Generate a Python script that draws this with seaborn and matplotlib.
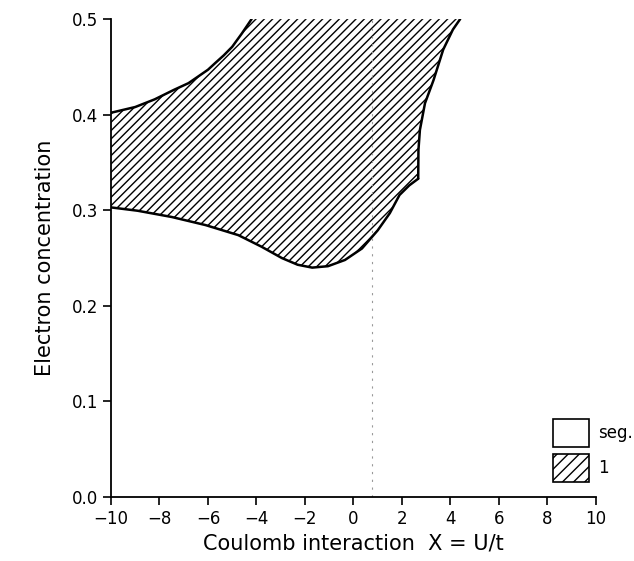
import numpy as np
import pandas as pd
import matplotlib
matplotlib.use('Agg')
import matplotlib.pyplot as plt
import matplotlib.patches as mpatches
import seaborn as sns

# boundary of phase region "1"
upper_x = [-10, -9.0, -8.2, -7.4, -6.8, -6.4, -6.0, -5.7, -5.35, -5.0, -4.6, -4.2]
upper_y = [0.402, 0.408, 0.416, 0.426, 0.433, 0.440, 0.447, 0.454, 0.462, 0.471, 0.485, 0.500]

lower_x = [-10, -8.9, -7.5, -6.1, -4.75, -3.8, -2.95, -2.3, -1.7, -1.05, -0.35,
           0.35, 1.0, 1.5, 1.9, 2.3, 2.67]
lower_y = [0.303, 0.2995, 0.293, 0.2845, 0.274, 0.262, 0.250, 0.243, 0.240, 0.2415,
           0.248, 0.260, 0.279, 0.297, 0.316, 0.326, 0.333]

right_x = [2.67, 2.68, 2.74, 2.95, 3.3, 3.7, 4.1, 4.4]
right_y = [0.333, 0.363, 0.384, 0.412, 0.436, 0.468, 0.489, 0.500]

x_ticks = [-10, -8, -6, -4, -2, 0, 2, 4, 6, 8, 10]
y_ticks = [0.0, 0.1, 0.2, 0.3, 0.4, 0.5]
legend_labels = ['seg.', '1']

sns.set_style('ticks')
plt.rcParams['font.family'] = ['DejaVu Sans']
plt.rcParams['hatch.linewidth'] = 1.0
plt.rcParams['text.color'] = 'black'
plt.rcParams['axes.labelcolor'] = 'black'

fig = plt.figure(figsize=(6.34, 5.61), dpi=100)
ax = fig.add_axes([0.175, 0.114, 0.765, 0.852])

# polygon of the hatched region: upper edge, right edge (down), lower edge (back)
poly_x = upper_x + right_x[::-1] + lower_x[::-1]
poly_y = upper_y + right_y[::-1] + lower_y[::-1]
ax.fill(poly_x, poly_y, facecolor='white', edgecolor='black', hatch='////', linewidth=0)

# boundary lines
up = pd.DataFrame({'x': upper_x, 'y': upper_y})
lo = pd.DataFrame({'x': lower_x, 'y': lower_y})
ri = pd.DataFrame({'x': right_x, 'y': right_y})
for d in (up, lo, ri):
    sns.lineplot(data=d, x='x', y='y', sort=False, estimator=None, color='black',
                 linewidth=1.8, ax=ax)

# faint dotted vertical line seen in the scan
ax.axvline(0.75, color='#999999', linewidth=0.8, linestyle=(0, (2, 5)))

ax.set_xlim(-10, 10)
ax.set_ylim(0, 0.5)
ax.set_xticks(x_ticks)
ax.set_yticks(y_ticks)
ax.set_yticklabels([f'{v:.1f}' for v in y_ticks])
ax.tick_params(labelsize=12, length=6, width=1.2, color='black', labelcolor='black')
sns.despine(ax=ax)
for s in ('left', 'bottom'):
    ax.spines[s].set_linewidth(1.3)
    ax.spines[s].set_color('black')

ax.set_xlabel('Coulomb interaction  X = U/t', fontsize=15, labelpad=4)
ax.set_ylabel('Electron concentration', fontsize=15, labelpad=12)

handles = [mpatches.Patch(facecolor='white', edgecolor='black', linewidth=1.2),
           mpatches.Patch(facecolor='white', edgecolor='black', linewidth=1.2, hatch='///')]
ax.legend(handles, legend_labels, loc='lower left', bbox_to_anchor=(0.911, 0.031),
          frameon=False, fontsize=12, handlelength=2.2, handleheight=2.2,
          labelspacing=0.45, handletextpad=0.5, borderpad=0, borderaxespad=0)

fig.savefig('out.png', dpi=100)
